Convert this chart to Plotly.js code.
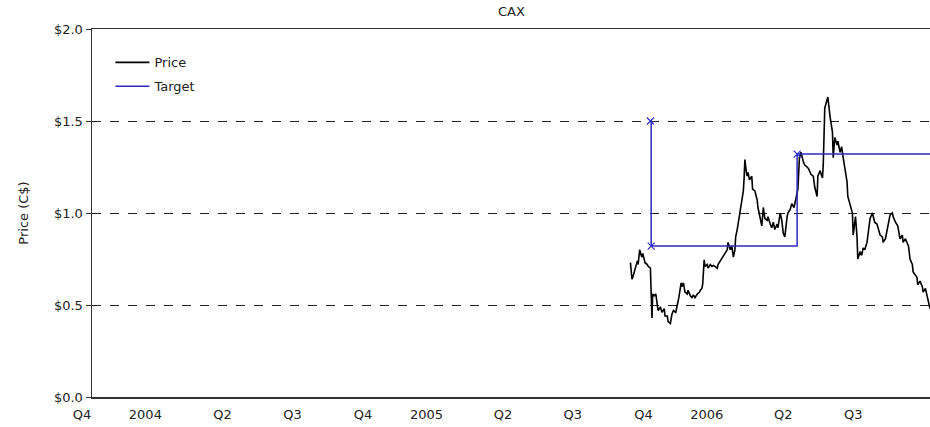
<!DOCTYPE html>
<html>
<head>
<meta charset="utf-8">
<script src="https://cdn.plot.ly/plotly-3.0.1.min.js"></script>
<style>
  html, body { margin: 0; padding: 0; background: #ffffff; }
  #chart { width: 930px; height: 427px; }
</style>
</head>
<body>
<div id="chart"></div>
<script>
// ---- Data ----
const chartTitle = "CAX";
const yAxisTitle = "Price (C$)";

const quarterTickDates = [
  "2003-10-01", "2004-01-01", "2004-04-01", "2004-07-01",
  "2004-10-01", "2005-01-01", "2005-04-01", "2005-07-01",
  "2005-10-01", "2006-01-01", "2006-04-01", "2006-07-01"
];
const quarterTickLabels = [
  "Q4", "2004", "Q2", "Q3", "Q4", "2005", "Q2", "Q3", "Q4", "2006", "Q2", "Q3"
];

const yTickValues = [0, 0.5, 1.0, 1.5, 2.0];
const yTickLabels = ["$0.0", "$0.5", "$1.0", "$1.5", "$2.0"];

const priceDates = [
  "2005-09-01","2005-09-02","2005-09-03","2005-09-04","2005-09-07","2005-09-10","2005-09-11","2005-09-13",
  "2005-09-15","2005-09-16","2005-09-17","2005-09-20","2005-09-23","2005-09-24","2005-09-27","2005-09-28",
  "2005-09-29","2005-09-30","2005-10-02","2005-10-04","2005-10-06","2005-10-07","2005-10-10","2005-10-12",
  "2005-10-15","2005-10-16","2005-10-19","2005-10-20","2005-10-23","2005-10-25","2005-10-27","2005-10-30",
  "2005-11-01","2005-11-03","2005-11-06","2005-11-07","2005-11-09","2005-11-11","2005-11-14","2005-11-15",
  "2005-11-18","2005-11-20","2005-11-22","2005-11-24","2005-11-27","2005-11-30","2005-12-01","2005-12-03",
  "2005-12-04","2005-12-06","2005-12-07","2005-12-10","2005-12-11","2005-12-14","2005-12-16","2005-12-18",
  "2005-12-20","2005-12-23","2005-12-24","2005-12-27","2005-12-29","2005-12-31","2006-01-02","2006-01-05",
  "2006-01-06","2006-01-09","2006-01-11","2006-01-13","2006-01-15","2006-01-16","2006-01-18","2006-01-20",
  "2006-01-23","2006-01-26","2006-01-27","2006-01-28","2006-01-30","2006-01-31","2006-02-01","2006-02-03",
  "2006-02-06","2006-02-07","2006-02-10","2006-02-13","2006-02-14","2006-02-17","2006-02-19","2006-02-21",
  "2006-02-23","2006-02-26","2006-02-27","2006-03-02","2006-03-04","2006-03-06","2006-03-08","2006-03-11",
  "2006-03-12","2006-03-15","2006-03-17","2006-03-19","2006-03-21","2006-03-24","2006-03-25","2006-03-28",
  "2006-03-30","2006-04-02","2006-04-05","2006-04-07","2006-04-09","2006-04-11","2006-04-14","2006-04-16",
  "2006-04-19","2006-04-21","2006-04-24","2006-04-27","2006-04-29","2006-05-02","2006-05-03","2006-05-06",
  "2006-05-09","2006-05-10","2006-05-12","2006-05-15","2006-05-16","2006-05-19","2006-05-22","2006-05-23",
  "2006-05-25","2006-05-28","2006-05-29","2006-06-01","2006-06-03","2006-06-05","2006-06-07","2006-06-10",
  "2006-06-11","2006-06-14","2006-06-17","2006-06-18","2006-06-21","2006-06-23","2006-06-24","2006-06-27",
  "2006-06-29","2006-07-01","2006-07-03","2006-07-06","2006-07-07","2006-07-10","2006-07-13","2006-07-14",
  "2006-07-16","2006-07-19","2006-07-23","2006-07-26","2006-07-27","2006-07-30","2006-08-01","2006-08-02",
  "2006-08-05","2006-08-08","2006-08-09","2006-08-12","2006-08-14","2006-08-15","2006-08-18","2006-08-21",
  "2006-08-22","2006-08-25","2006-08-27","2006-08-29","2006-08-31","2006-09-03","2006-09-04","2006-09-07",
  "2006-09-09","2006-09-10","2006-09-13","2006-09-16","2006-09-17","2006-09-20","2006-09-22","2006-09-23",
  "2006-09-26"
];
const priceValues = [
  0.73,0.69,0.64,0.65,0.70,0.74,0.72,0.80,
  0.77,0.76,0.78,0.73,0.72,0.71,0.70,0.55,
  0.43,0.56,0.55,0.56,0.50,0.47,0.49,0.46,
  0.48,0.44,0.44,0.41,0.40,0.45,0.47,0.46,
  0.50,0.54,0.62,0.60,0.62,0.57,0.56,0.58,
  0.55,0.54,0.555,0.54,0.56,0.57,0.58,0.59,
  0.61,0.745,0.71,0.72,0.70,0.72,0.71,0.715,
  0.71,0.70,0.72,0.74,0.75,0.77,0.78,0.80,
  0.84,0.80,0.82,0.76,0.80,0.87,0.91,0.96,
  1.02,1.12,1.19,1.29,1.22,1.20,1.22,1.18,
  1.20,1.13,1.12,1.07,1.03,0.98,0.93,1.03,
  0.97,0.96,0.98,0.94,0.92,0.95,0.91,0.94,
  0.92,1.00,0.96,0.89,0.87,0.98,1.00,1.02,
  1.05,1.03,1.10,1.13,1.30,1.33,1.28,1.26,
  1.25,1.24,1.21,1.20,1.14,1.09,1.20,1.23,
  1.19,1.26,1.57,1.62,1.63,1.52,1.44,1.30,
  1.41,1.37,1.39,1.33,1.36,1.30,1.25,1.17,
  1.09,1.04,1.00,0.88,0.98,0.87,0.75,0.79,
  0.77,0.81,0.80,0.84,0.88,0.97,1.00,0.98,
  0.95,0.94,0.88,0.87,0.84,0.86,0.90,0.93,
  0.99,1.00,0.98,0.95,0.93,0.93,0.86,0.88,
  0.84,0.86,0.84,0.82,0.75,0.72,0.68,0.66,
  0.65,0.61,0.63,0.60,0.57,0.59,0.55,0.53,
  0.48
];

const targetDates = ["2005-09-27", "2005-09-28", "2006-04-06", "2006-10-15"];
const targetValues = [1.50, 0.82, 1.32, 1.32];
const targetMarkCount = 3; // targets set on the first three dates

// ---- Styles ----
const fontFamily = "DejaVu Sans, Verdana, sans-serif";
const textColor = "#222222";
const priceColor = "#000000";
const targetColor = "#2b2bc4";

const traces = [
  {
    type: "scatter", mode: "lines", name: "Price", legendgroup: "price",
    x: priceDates, y: priceValues,
    line: { color: priceColor, width: 1.6 }
  },
  {
    type: "scatter", mode: "lines", name: "Target", legendgroup: "target",
    x: targetDates, y: targetValues,
    line: { color: targetColor, width: 1.5, shape: "hv" }
  },
  {
    type: "scatter", mode: "markers", name: "Target set", showlegend: false, legendgroup: "target",
    x: targetDates.slice(0, targetMarkCount), y: targetValues.slice(0, targetMarkCount),
    marker: { symbol: "x-thin-open", size: 7, color: targetColor, line: { width: 1.2, color: "#20207a" } }
  }
];

const layout = {
  width: 930, height: 427,
  margin: { l: 92, r: 0, t: 29, b: 30, pad: 0 },
  paper_bgcolor: "#ffffff",
  plot_bgcolor: "#ffffff",
  font: { family: fontFamily, size: 13, color: textColor },
  title: { text: chartTitle, x: 0.55, xanchor: "center", y: 0.985, yanchor: "top",
           font: { family: fontFamily, size: 13, color: textColor } },
  showlegend: true,
  legend: {
    x: 0.022, y: 0.95, xanchor: "left", yanchor: "top",
    bgcolor: "rgba(0,0,0,0)", borderwidth: 0,
    font: { family: fontFamily, size: 13, color: textColor },
    tracegroupgap: 4,
    itemwidth: 34
  },
  xaxis: {
    type: "date",
    range: ["2003-10-01", "2006-09-26"],
    tickmode: "array",
    tickvals: quarterTickDates,
    ticktext: quarterTickLabels,
    ticklabelposition: "outside left",
    ticklabelstandoff: 5,
    ticks: "",
    showgrid: false,
    zeroline: false,
    showline: true, linecolor: "#333333", linewidth: 1.5,
    mirror: true,
    tickfont: { family: fontFamily, size: 13, color: textColor },
    fixedrange: true
  },
  yaxis: {
    range: [0, 2],
    tickmode: "array",
    tickvals: yTickValues,
    ticktext: yTickLabels,
    ticks: "outside", ticklen: 5, tickcolor: "#333333", tickwidth: 1,
    showgrid: true, gridcolor: "#222222", gridwidth: 1, griddash: "dash",
    zeroline: false,
    showline: true, linecolor: "#333333", linewidth: 1.5,
    tickfont: { family: fontFamily, size: 13, color: textColor },
    title: { text: yAxisTitle, standoff: 22, font: { family: fontFamily, size: 13, color: textColor } },
    fixedrange: true
  }
};

Plotly.newPlot("chart", traces, layout, { staticPlot: true, displayModeBar: false });
</script>
</body>
</html>
